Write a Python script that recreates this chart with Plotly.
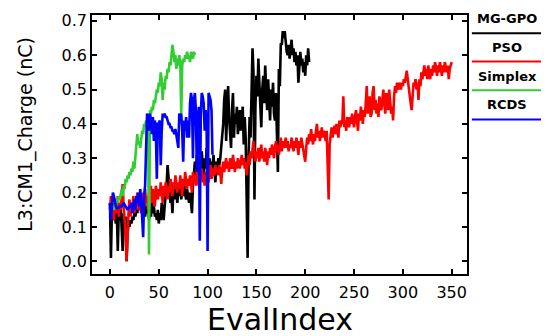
import plotly.graph_objects as go

# ---------------- data ----------------
series_names = ["MG-GPO", "PSO", "Simplex", "RCDS"]
series_colors = ["black", "red", "#32cd32", "blue"]

mg_gpo = [
    0.17, 0.01, 0.15, 0.12, 0.16, 0.14, 0.11, 0.15, 0.03, 0.14,
    0.12, 0.16, 0.11, 0.03, 0.14, 0.10, 0.13, 0.00, 0.08, 0.11,
    0.10, 0.12, 0.11, 0.13, 0.12, 0.14, 0.13, 0.15, 0.14, 0.17,
    0.15, 0.19, 0.14, 0.17, 0.15, 0.18, 0.13, 0.16, 0.14, 0.17,
    0.12, 0.15, 0.13, 0.18, 0.14, 0.16, 0.13, 0.14, 0.12, 0.15,
    0.11, 0.14, 0.12, 0.17, 0.15, 0.12, 0.16, 0.19, 0.22, 0.28,
    0.24, 0.20, 0.17, 0.19, 0.14, 0.21, 0.18, 0.23, 0.20, 0.17,
    0.21, 0.19, 0.22, 0.18, 0.21, 0.19, 0.22, 0.20, 0.18, 0.21,
    0.19, 0.17, 0.20, 0.16, 0.14, 0.22, 0.27, 0.29, 0.25, 0.31,
    0.28, 0.30, 0.26, 0.29, 0.32, 0.28, 0.25, 0.30, 0.27, 0.33,
    0.31, 0.28, 0.30, 0.26, 0.29, 0.27, 0.31, 0.28, 0.23, 0.29,
    0.27, 0.30, 0.28, 0.30, 0.33, 0.38, 0.40, 0.47, 0.50, 0.35,
    0.46, 0.51, 0.42, 0.38, 0.33, 0.44, 0.49, 0.36, 0.43, 0.40,
    0.45, 0.37, 0.41, 0.44, 0.38, 0.42, 0.45, 0.34, 0.42, 0.36,
    0.12, 0.01, 0.30, 0.42, 0.36, 0.50, 0.62, 0.55, 0.18, 0.45,
    0.54, 0.48, 0.59, 0.52, 0.47, 0.39, 0.50, 0.54, 0.46, 0.57,
    0.50, 0.44, 0.53, 0.47, 0.41, 0.50, 0.45, 0.52, 0.43, 0.41,
    0.49, 0.37, 0.26, 0.56, 0.51, 0.635, 0.63, 0.67, 0.65, 0.67,
    0.63, 0.61, 0.60, 0.63, 0.59, 0.62, 0.645, 0.60, 0.62, 0.58,
    0.61, 0.57, 0.60, 0.52, 0.58, 0.61, 0.57, 0.59, 0.55, 0.58,
    0.54, 0.60, 0.57, 0.62, 0.58,
]

pso = [
    0.15, 0.19, 0.13, 0.17, 0.12, 0.16, 0.18, 0.14, 0.19, 0.13,
    0.17, 0.15, 0.20, 0.225, 0.16, 0.12, 0.08, 0.00, 0.10, 0.14,
    0.18, 0.13, 0.17, 0.15, 0.19, 0.14, 0.18, 0.16, 0.20, 0.15,
    0.19, 0.17, 0.14, 0.18, 0.20, 0.16, 0.21, 0.17, 0.19, 0.15,
    0.20, 0.18, 0.22, 0.17, 0.21, 0.19, 0.16, 0.22, 0.20, 0.18,
    0.21, 0.19, 0.23, 0.20, 0.17, 0.22, 0.19, 0.23, 0.21, 0.18,
    0.22, 0.20, 0.24, 0.21, 0.19, 0.23, 0.21, 0.25, 0.22, 0.20,
    0.23, 0.21, 0.25, 0.22, 0.19, 0.24, 0.22, 0.26, 0.23, 0.21,
    0.24, 0.22, 0.25, 0.23, 0.20, 0.26, 0.23, 0.25, 0.22, 0.27,
    0.24, 0.22, 0.26, 0.24, 0.27, 0.23, 0.25, 0.22, 0.26, 0.24,
    0.27, 0.23, 0.25, 0.28, 0.24, 0.26, 0.27, 0.25, 0.28, 0.26,
    0.27, 0.25, 0.28, 0.26, 0.225, 0.27, 0.29, 0.26, 0.28, 0.30,
    0.27, 0.29, 0.26, 0.30, 0.28, 0.27, 0.31, 0.28, 0.26, 0.29,
    0.27, 0.30, 0.28, 0.27, 0.29, 0.31, 0.28, 0.30, 0.27, 0.29,
    0.25, 0.29, 0.31, 0.28, 0.32, 0.30, 0.33, 0.35, 0.31, 0.29,
    0.32, 0.30, 0.33, 0.29, 0.31, 0.34, 0.30, 0.32, 0.29, 0.33,
    0.31, 0.28, 0.32, 0.30, 0.33, 0.31, 0.34, 0.32, 0.30, 0.33,
    0.35, 0.32, 0.34, 0.31, 0.33, 0.36, 0.32, 0.35, 0.33, 0.34,
    0.36, 0.33, 0.35, 0.32, 0.34, 0.33, 0.36, 0.34, 0.32, 0.35,
    0.33, 0.36, 0.34, 0.31, 0.35, 0.33, 0.36, 0.34, 0.32, 0.31,
    0.29, 0.33, 0.36, 0.34, 0.37, 0.35, 0.385, 0.36, 0.34, 0.37,
    0.35, 0.38, 0.40, 0.36, 0.38, 0.35, 0.37, 0.39, 0.36, 0.38,
    0.37, 0.35, 0.38, 0.30, 0.18, 0.34, 0.37, 0.39, 0.36, 0.38,
    0.395, 0.37, 0.40, 0.38, 0.36, 0.41, 0.39, 0.41, 0.40, 0.48,
    0.39, 0.41, 0.38, 0.42, 0.40, 0.39, 0.42, 0.40, 0.43, 0.41,
    0.39, 0.42, 0.44, 0.41, 0.38, 0.43, 0.41, 0.45, 0.42, 0.40,
    0.44, 0.42, 0.46, 0.51, 0.43, 0.45, 0.48, 0.42, 0.43, 0.49,
    0.51, 0.44, 0.47, 0.43, 0.46, 0.42, 0.48, 0.45, 0.44, 0.47,
    0.50, 0.46, 0.43, 0.49, 0.47, 0.44, 0.50, 0.46, 0.43, 0.45,
    0.41, 0.48, 0.51, 0.49, 0.52, 0.50, 0.51, 0.52, 0.50, 0.52,
    0.51, 0.53, 0.52, 0.54, 0.555, 0.53, 0.50, 0.48, 0.46, 0.44,
    0.50, 0.52, 0.51, 0.53, 0.50, 0.52, 0.47, 0.53, 0.51, 0.55,
    0.53, 0.56, 0.57, 0.54, 0.56, 0.53, 0.57, 0.55, 0.53, 0.56,
    0.54, 0.57, 0.55, 0.58, 0.56, 0.54, 0.57, 0.55, 0.58, 0.56,
    0.54, 0.57, 0.55, 0.58, 0.56, 0.55, 0.57, 0.53, 0.56, 0.57,
    0.58,
]

simplex = [
    0.17, 0.14, 0.15, 0.16, 0.15, 0.17, 0.16, 0.18, 0.17, 0.19,
    0.18, 0.20, 0.21, 0.19, 0.22, 0.21, 0.24, 0.23, 0.25, 0.24,
    0.26, 0.25, 0.27, 0.26, 0.29, 0.27, 0.31, 0.33, 0.37, 0.34,
    0.35, 0.33, 0.36, 0.38, 0.37, 0.40, 0.39, 0.41, 0.40, 0.42,
    0.02, 0.44, 0.43, 0.45, 0.44, 0.47, 0.46, 0.48, 0.50, 0.49,
    0.52, 0.51, 0.55, 0.53, 0.47, 0.52, 0.50, 0.54, 0.53, 0.56,
    0.55, 0.58, 0.57, 0.60, 0.63, 0.61, 0.58, 0.60, 0.56, 0.59,
    0.57, 0.60, 0.58, 0.43, 0.57, 0.59, 0.58, 0.60, 0.59, 0.61,
    0.59, 0.60, 0.58, 0.61, 0.60, 0.59, 0.61, 0.60,
]

rcds = [
    0.17, 0.12, 0.16, 0.20, 0.19, 0.17, 0.16, 0.155, 0.155, 0.155,
    0.16, 0.16, 0.16, 0.165, 0.17, 0.165, 0.16, 0.155, 0.15, 0.155,
    0.16, 0.16, 0.17, 0.14, 0.16, 0.18, 0.15, 0.19, 0.17, 0.20,
    0.16, 0.21, 0.18, 0.14, 0.07, 0.19, 0.22, 0.33, 0.43, 0.42,
    0.38, 0.43, 0.41, 0.37, 0.42, 0.35, 0.41, 0.38, 0.24, 0.40,
    0.40, 0.41, 0.28, 0.38, 0.43, 0.42, 0.43, 0.42, 0.42, 0.41,
    0.40, 0.40, 0.39, 0.39, 0.38, 0.38, 0.37, 0.385, 0.36, 0.35,
    0.33, 0.43, 0.42, 0.43, 0.38, 0.29, 0.41, 0.38, 0.42, 0.36,
    0.41, 0.36, 0.46, 0.49, 0.47, 0.30, 0.47, 0.49, 0.44, 0.26,
    0.40, 0.45, 0.06, 0.42, 0.49, 0.48, 0.46, 0.38, 0.44, 0.40,
    0.03, 0.49, 0.48, 0.47, 0.44, 0.31,
]

series_values = [mg_gpo, pso, simplex, rcds]

x_tick_vals = [0, 50, 100, 150, 200, 250, 300, 350]
y_tick_vals = [0.0, 0.1, 0.2, 0.3, 0.4, 0.5, 0.6, 0.7]
y_tick_text = ["0.0", "0.1", "0.2", "0.3", "0.4", "0.5", "0.6", "0.7"]

x_title = "EvalIndex"
y_title = "L3:CM1_Charge (nC)"

# ---------------- figure ----------------
fig = go.Figure()
for name, color, vals in zip(series_names, series_colors, series_values):
    fig.add_trace(go.Scatter(
        x=list(range(len(vals))), y=vals, mode="lines", name=name,
        line=dict(color=color, width=2.6), showlegend=False,
    ))

tick_font = dict(family="DejaVu Sans", size=16, color="black")
fig.update_xaxes(
    range=[-18.4, 365.7], tickvals=x_tick_vals, ticks="inside", ticklen=5,
    tickwidth=1.5, tickcolor="black", showline=True, linecolor="black",
    linewidth=1.5, mirror="ticks", showgrid=False, zeroline=False,
    tickfont=tick_font, ticklabelstandoff=3,
)
fig.update_yaxes(
    range=[-0.037, 0.717], tickvals=y_tick_vals, ticktext=y_tick_text,
    ticks="inside", ticklen=5, tickwidth=1.5, tickcolor="black",
    showline=True, linecolor="black", linewidth=1.5, mirror="ticks",
    showgrid=False, zeroline=False, tickfont=tick_font, ticklabelstandoff=0,
)

annotations = [
    dict(text=x_title, xref="paper", yref="paper", x=0.5, y=-0.175,
         xanchor="center", yanchor="middle", showarrow=False,
         font=dict(family="DejaVu Sans", size=30, color="black")),
    dict(text=y_title, xref="paper", yref="paper", x=-0.177, y=0.54,
         xanchor="center", yanchor="middle", showarrow=False, textangle=-90,
         font=dict(family="DejaVu Sans", size=19, color="black")),
]
shapes = []
text_y = [0.985, 0.874, 0.763, 0.653]
line_y = [0.930, 0.820, 0.709, 0.597]
for name, color, ty, ly in zip(series_names, series_colors, text_y, line_y):
    annotations.append(dict(
        text=name, xref="paper", yref="paper", x=1.107, y=ty,
        xanchor="center", yanchor="middle", showarrow=False,
        font=dict(family="DejaVu Sans", size=13, color="black", weight="bold"),
    ))
    shapes.append(dict(
        type="line", xref="paper", yref="paper", x0=1.013, x1=1.216,
        y0=ly, y1=ly, line=dict(color=color, width=2),
    ))

# the page body adds an 8px offset, so the figure is drawn 8px smaller
fig.update_layout(
    width=541, height=328,
    margin=dict(l=84, r=82, t=4, b=62),
    paper_bgcolor="white", plot_bgcolor="white",
    showlegend=False,
    annotations=annotations, shapes=shapes,
)

fig.write_html("out.html")
